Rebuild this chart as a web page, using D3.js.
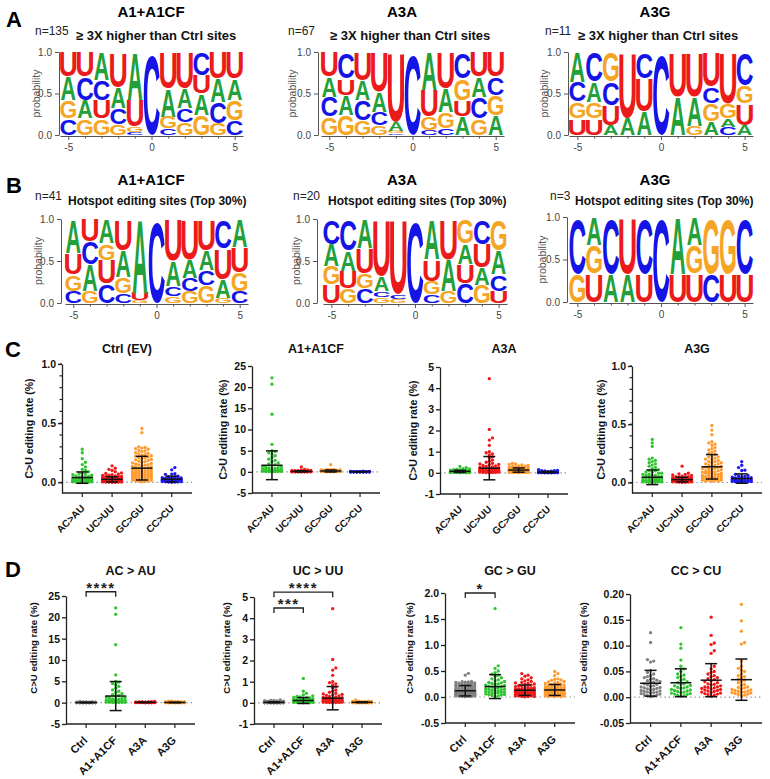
<!DOCTYPE html>
<html><head><meta charset="utf-8">
<script src="https://cdn.jsdelivr.net/npm/d3@7"></script>
<style>
body{margin:0;background:#fff}
svg{display:block}
text{font-family:"Liberation Sans",Arial,Helvetica,sans-serif}
</style></head>
<body><svg id="c" width="770" height="779"></svg>
<script>
// ---------------- DATA ----------------
const positions = [-5,-4,-3,-2,-1,0,1,2,3,4,5];

// Sequence logos: letters listed bottom -> top, with probabilities
const logoA1_letters = ["CGAU","GACU","GUCA","GCAU","CGUA","C","CGAU","GCAU","GAUC","GCAU","CGAU"];
const logoA1_probs = [[.20,.22,.28,.30],[.20,.22,.28,.30],[.20,.22,.24,.34],[.13,.19,.25,.43],[.03,.07,.32,.58],[1],[.08,.14,.34,.44],[.15,.17,.24,.44],[.24,.26,.22,.28],[.14,.26,.28,.32],[.18,.24,.26,.32]];
const logoA3A_letters = ["GCAU","GAUC","GCAU","GCAU","CGAU","C","CGUA","CGAU","AUGC","GCAU","AGCU"];
const logoA3A_probs = [[.22,.24,.24,.30],[.24,.24,.20,.32],[.18,.24,.24,.34],[.12,.16,.24,.48],[.02,.03,.11,.84],[1],[.06,.16,.32,.46],[.08,.20,.28,.44],[.22,.20,.26,.32],[.20,.26,.24,.30],[.24,.24,.22,.30]];
const logoA3G_letters = ["UGCA","UGAC","AUCG","AU","AUC","C","AU","GAU","AGCU","CAGU","AUGC"];
const logoA3G_probs = [[.20,.20,.24,.36],[.20,.20,.24,.36],[.12,.24,.28,.36],[.20,.80],[.28,.40,.32],[1],[.46,.54],[.11,.35,.54],[.16,.22,.20,.42],[.10,.10,.18,.62],[.12,.26,.22,.40]];
const hotA1_letters = ["CGUA","GACU","CUGA","CGAU","GUA","C","GCAU","GCAU","GCAU","GAUC","CGUA"];
const hotA1_probs = [[.14,.20,.26,.40],[.14,.32,.27,.27],[.23,.28,.20,.29],[.11,.20,.32,.37],[.03,.09,.88],[1],[.08,.12,.30,.50],[.14,.16,.22,.48],[.21,.18,.24,.37],[.06,.22,.37,.35],[.14,.23,.30,.33]];
const hotA3A_letters = ["UGAC","GUAC","CGUA","GCAU","GCU","C","CGUA","GAU","CUAG","GAUC","UCAG"];
const hotA3A_probs = [[.22,.22,.26,.30],[.18,.20,.24,.38],[.17,.18,.30,.35],[.07,.07,.18,.68],[.05,.05,.90],[1],[.10,.16,.26,.48],[.14,.38,.48],[.24,.23,.24,.29],[.22,.20,.28,.30],[.14,.20,.28,.38]];
const hotA3G_letters = ["GC","UGA","AC","AU","UC","C","UA","UGA","CG","UG","UC"];
const hotA3G_probs = [[.333,.667],[.333,.333,.334],[.333,.667],[.333,.667],[.333,.667],[1],[.333,.667],[.333,.333,.334],[.333,.667],[.333,.667],[.333,.667]];

const logoTitles = ["A1+A1CF","A3A","A3G"];
const logoN_A = ["n=135","n=67","n=11"];
const logoN_B = ["n=41","n=20","n=3"];
const subA = "\u2265 3X higher than Ctrl sites";
const subB = "Hotspot editing sites (Top 30%)";

// C>U editing rates (%), per enzyme and context
const contexts = ["AC>AU","UC>UU","GC>GU","CC>CU"];
const enzymes = ["Ctrl","A1+A1CF","A3A","A3G"];
const cTitles = ["Ctrl (EV)","A1+A1CF","A3A","A3G"];
const dTitles = ["AC > AU","UC > UU","GC > GU","CC > CU"];

const ctrl_AC = [0.28,0.25,0.2,0.17,0.15,0.13,0.11,0.1,0.09,0.08,0.075,0.07,0.065,0.06,0.055,0.05,0.05,0.045,0.045,0.04,0.04,0.035,0.035,0.03,0.03,0.03,0.028,0.025,0.025,0.022,0.02,0.02,0.02,0.018,0.016,0.015,0.015,0.013,0.012,0.011,0.01,0.01,0.009,0.008,0.008,0.007,0.006,0.005,0.005,0.004,0.003,0.003,0.002,0.001,0];
const ctrl_UC = [0.14,0.12,0.11,0.1,0.09,0.08,0.075,0.07,0.065,0.06,0.058,0.055,0.05,0.05,0.048,0.045,0.043,0.04,0.04,0.038,0.036,0.035,0.033,0.032,0.03,0.03,0.029,0.028,0.027,0.026,0.025,0.024,0.023,0.022,0.021,0.02,0.02,0.019,0.018,0.017,0.016,0.015,0.015,0.014,0.013,0.012,0.012,0.011,0.01,0.01,0.009,0.009,0.008,0.008,0.007,0.007,0.006,0.006,0.005,0.005,0.004,0.004,0.003,0.003,0.002,0.002,0.001,0.001];
const ctrl_GC = [0.455,0.42,0.3,0.295,0.29,0.285,0.28,0.27,0.265,0.26,0.25,0.245,0.24,0.235,0.23,0.225,0.22,0.215,0.21,0.205,0.2,0.195,0.19,0.185,0.18,0.175,0.17,0.165,0.16,0.155,0.15,0.148,0.145,0.14,0.135,0.13,0.128,0.125,0.12,0.118,0.115,0.11,0.108,0.105,0.1,0.098,0.095,0.092,0.09,0.088,0.085,0.082,0.08,0.078,0.075,0.072,0.07,0.068,0.065,0.062,0.06,0.058,0.055,0.052,0.05,0.048,0.045,0.042,0.04,0.038,0.035,0.032,0.03,0.028,0.025,0.022,0.02,0.018,0.015,0.012,0.01,0.008,0.005];
const ctrl_CC = [0.125,0.106,0.073,0.07,0.068,0.052,0.048,0.045,0.042,0.04,0.038,0.036,0.035,0.033,0.032,0.03,0.029,0.028,0.026,0.025,0.024,0.022,0.021,0.02,0.019,0.018,0.017,0.016,0.015,0.014,0.013,0.012,0.011,0.01,0.01,0.009,0.008,0.007,0.006,0.005,0.004,0.003,0.002,0.001];
const a1_AC = [22.2,20.7,13.6,6.5,5.0,4.8,4.5,4.2,3.8,3.4,3.0,2.7,2.4,2.1,1.9,1.7,1.5,1.3,1.2,1.1,1.0,0.9,0.8,0.75,0.7,0.6,0.55,0.5,0.45,0.4,0.35,0.3,0.28,0.25,0.22,0.2,0.18,0.15,0.12,0.1,0.08,0.06,0.05,0.03,0.02];
const a1_UC = [1.15,0.55,0.45,0.38,0.33,0.3,0.28,0.26,0.25,0.23,0.22,0.2,0.19,0.18,0.17,0.16,0.15,0.15,0.14,0.13,0.13,0.12,0.12,0.11,0.11,0.1,0.1,0.09,0.09,0.08,0.08,0.08,0.07,0.07,0.07,0.06,0.06,0.06,0.05,0.05,0.05,0.04,0.04,0.04,0.03,0.03,0.03,0.02,0.02,0.02,0.01,0.01,0.01,0.005,0.005];
const a1_GC = [1.7,0.6,0.55,0.5,0.47,0.44,0.42,0.4,0.37,0.35,0.33,0.31,0.3,0.28,0.27,0.26,0.25,0.24,0.23,0.22,0.21,0.2,0.19,0.18,0.17,0.16,0.15,0.15,0.14,0.13,0.12,0.12,0.11,0.1,0.1,0.09,0.08,0.08,0.07,0.06,0.05,0.05,0.04,0.03,0.02,0.01];
const a1_CC = [0.135,0.103,0.095,0.072,0.06,0.055,0.05,0.045,0.043,0.04,0.038,0.035,0.033,0.03,0.028,0.026,0.025,0.023,0.022,0.02,0.019,0.018,0.017,0.015,0.014,0.013,0.012,0.011,0.01,0.009,0.008,0.007,0.006,0.005,0.004,0.003,0.002];
const a3a_AC = [0.3,0.25,0.2,0.18,0.16,0.15,0.14,0.13,0.12,0.11,0.1,0.1,0.09,0.09,0.08,0.08,0.08,0.07,0.07,0.07,0.06,0.06,0.06,0.05,0.05,0.05,0.05,0.04,0.04,0.04,0.04,0.03,0.03,0.03,0.03,0.02,0.02,0.02,0.02,0.01,0.01,0.01,0.01,0.005,0.005];
const a3a_UC = [4.45,2.05,1.65,1.55,1.3,1.0,0.95,0.9,0.85,0.75,0.7,0.6,0.55,0.5,0.45,0.42,0.4,0.38,0.35,0.33,0.3,0.28,0.26,0.25,0.23,0.22,0.2,0.19,0.18,0.17,0.16,0.15,0.14,0.13,0.12,0.12,0.11,0.1,0.1,0.09,0.09,0.08,0.08,0.07,0.07,0.06,0.06,0.05,0.05,0.04,0.04,0.03,0.03,0.02,0.02,0.01,0.01,0.005];
const a3a_GC = [0.45,0.42,0.4,0.37,0.35,0.33,0.31,0.3,0.28,0.27,0.26,0.25,0.24,0.23,0.22,0.21,0.2,0.19,0.18,0.18,0.17,0.16,0.16,0.15,0.15,0.14,0.14,0.13,0.13,0.12,0.12,0.11,0.11,0.1,0.1,0.1,0.09,0.09,0.09,0.08,0.08,0.08,0.07,0.07,0.07,0.06,0.06,0.06,0.05,0.05,0.05,0.04,0.04,0.04,0.03,0.03,0.03,0.02,0.02,0.02,0.01,0.01,0.01,0.005];
const a3a_CC = [0.155,0.12,0.105,0.102,0.09,0.085,0.06,0.055,0.05,0.048,0.045,0.042,0.04,0.038,0.036,0.034,0.032,0.03,0.028,0.026,0.025,0.024,0.022,0.02,0.02,0.019,0.018,0.017,0.016,0.015,0.014,0.013,0.012,0.011,0.01,0.009,0.008,0.007,0.006,0.005,0.004,0.002];
const a3g_AC = [0.37,0.34,0.31,0.21,0.2,0.19,0.18,0.17,0.16,0.15,0.14,0.13,0.12,0.11,0.1,0.1,0.09,0.09,0.08,0.08,0.07,0.07,0.06,0.06,0.06,0.05,0.05,0.05,0.04,0.04,0.04,0.04,0.03,0.03,0.03,0.03,0.03,0.02,0.02,0.02,0.02,0.02,0.02,0.01,0.01,0.01,0.01,0.01,0.01,0.005,0.005,0.005,0.005,0.002,0.002,0.001];
const a3g_UC = [0.14,0.08,0.075,0.07,0.065,0.06,0.055,0.05,0.05,0.048,0.045,0.042,0.04,0.04,0.038,0.035,0.033,0.032,0.03,0.03,0.028,0.027,0.025,0.025,0.024,0.023,0.022,0.021,0.02,0.02,0.019,0.018,0.017,0.016,0.015,0.015,0.014,0.013,0.012,0.012,0.011,0.01,0.01,0.009,0.008,0.008,0.007,0.006,0.005,0.005,0.004,0.003,0.002,0.001];
const a3g_GC = [0.49,0.45,0.41,0.35,0.34,0.33,0.32,0.3,0.29,0.28,0.27,0.26,0.25,0.24,0.23,0.22,0.22,0.21,0.2,0.2,0.19,0.18,0.18,0.17,0.17,0.16,0.16,0.15,0.15,0.14,0.14,0.13,0.13,0.12,0.12,0.12,0.11,0.11,0.1,0.1,0.1,0.09,0.09,0.09,0.08,0.08,0.08,0.07,0.07,0.07,0.06,0.06,0.06,0.05,0.05,0.05,0.05,0.04,0.04,0.04,0.04,0.03,0.03,0.03,0.03,0.02,0.02,0.02,0.02,0.01,0.01,0.01];
const a3g_CC = [0.18,0.148,0.128,0.106,0.103,0.07,0.06,0.056,0.052,0.05,0.045,0.042,0.04,0.038,0.035,0.033,0.03,0.028,0.025,0.023,0.02,0.019,0.018,0.016,0.015,0.014,0.013,0.012,0.011,0.01,0.01,0.009,0.008,0.007,0.006,0.005,0.004,0.003];

// mean and SD (as shown by the error bars), order: AC, UC, GC, CC
const mean_ctrl = [0.04,0.025,0.12,0.027],  sd_ctrl = [0.048,0.022,0.1,0.025];
const mean_a1   = [1.55,0.11,0.2,0.028],    sd_a1   = [3.4,0.14,0.23,0.027];
const mean_a3a  = [0.07,0.22,0.13,0.033],   sd_a3a  = [0.05,0.55,0.1,0.032];
const mean_a3g  = [0.045,0.025,0.135,0.034],sd_a3g  = [0.063,0.02,0.105,0.04];

const cTicks = [[0,0.5,1],[-5,0,5,10,15,20,25],[-1,0,1,2,3,4,5],[0,0.5,1]];
const cFormats = [".1f","d","d",".1f"];
const cDomains = [[-0.09,1],[-5,25],[-1,5],[-0.09,1]];
const dTicks = [[-5,0,5,10,15,20,25],[-1,0,1,2,3,4,5],[-0.5,0,0.5,1,1.5,2],[-0.05,0,0.05,0.1,0.15,0.2]];
const dFormats = ["d","d",".1f",".2f"];
const dDomains = [[-5,25],[-1,5],[-0.5,2],[-0.05,0.2]];

const sigMarks = [
  {panel:0, a:0, b:1, at:26, label:"****"},
  {panel:1, a:0, b:2, at:5.23, label:"****"},
  {panel:1, a:0, b:1, at:4.48, label:"***"},
  {panel:2, a:0, b:1, at:2.0, label:"*"}
];

// ---------------- DRAW ----------------
const rates = [[ctrl_AC,ctrl_UC,ctrl_GC,ctrl_CC],[a1_AC,a1_UC,a1_GC,a1_CC],[a3a_AC,a3a_UC,a3a_GC,a3a_CC],[a3g_AC,a3g_UC,a3g_GC,a3g_CC]];
const means = [mean_ctrl,mean_a1,mean_a3a,mean_a3g];
const sds = [sd_ctrl,sd_a1,sd_a3a,sd_a3g];

const svg = d3.select("#c");
svg.append("rect").attr("width",770).attr("height",779).attr("fill","#fff");
const fmt = f => { const g = d3.format(f); return v => g(v).replace("\u2212","-"); };

function label(x,y,s,size,weight,anchor,fill){
  return svg.append("text").attr("x",x).attr("y",y).attr("font-size",size)
    .attr("font-weight",weight||"normal").attr("text-anchor",anchor||"start")
    .attr("fill",fill||"#111").text(s);
}

// Panel letters
[["A",6,27],["B",6,193],["C",5,357],["D",5,577]].forEach(([s,x,y])=>label(x,y,s,22,"bold","start","#000"));

const GLYPH = {A:{ink:0.722,yMin:0,yMax:0.716}, C:{ink:0.633,yMin:-0.012,yMax:0.728},
               G:{ink:0.677,yMin:-0.012,yMax:0.728}, U:{ink:0.576,yMin:-0.012,yMax:0.716}};
const LOGO_COLOR = {A:"#23a03a", C:"#1414e6", G:"#f5a524", U:"#ec1b1b"};

function drawLogo(c, letters, probs){
  const g = svg.append("g");
  const x = d3.scaleLinear().domain([-5.5,5.5]).range([c.x0,c.x1]);
  const y = d3.scaleLinear().domain([0,1]).range([c.y0,c.y1]);
  const colW = x(0.5)-x(-0.5);
  positions.forEach((pos,i)=>{
    let cum = 0;
    letters[i].split("").forEach((L,j)=>{
      const p = probs[i][j];
      const bottom = y(cum), top = y(cum+p);
      cum += p;
      const h = bottom-top;
      if (h < 0.4) return;
      const m = GLYPH[L], FS = 100;
      const sx = colW*0.93/(m.ink*FS);
      const sy = h/((m.yMax-m.yMin)*FS);
      const base = bottom + m.yMin*FS*sy;
      g.append("text").attr("transform",`translate(${x(pos)},${base}) scale(${sx},${sy})`)
        .attr("text-anchor","middle").attr("font-size",FS).attr("font-weight","bold")
        .attr("fill",LOGO_COLOR[L]).text(L);
    });
  });
  // y axis
  const ya = svg.append("g").attr("transform",`translate(${c.ax},0)`)
    .call(d3.axisLeft(y).tickValues([0,0.5,1]).tickFormat(fmt(".1f")).tickSize(4).tickSizeOuter(0));
  // x axis
  const xa = svg.append("g").attr("transform",`translate(0,${c.y0+1})`)
    .call(d3.axisBottom(x).tickValues(positions).tickFormat(v => (v%5===0)? fmt("d")(v) : "").tickSize(3).tickSizeOuter(0));
  xa.selectAll(".tick line").attr("y2", d => d%5===0 ? 4 : 2.5);
  [ya,xa].forEach(a=>{
    a.selectAll("path,line").attr("stroke","#555").attr("stroke-width",1);
    a.selectAll("text").attr("font-size",10).attr("fill","#444").attr("font-family",'"Liberation Sans",Arial,sans-serif');
  });
  xa.selectAll("text").attr("dy","0.9em");
  svg.append("text").attr("transform",`translate(${c.lx},${(c.y0+c.y1)/2}) rotate(-90)`)
    .attr("text-anchor","middle").attr("font-size",10.5).attr("fill","#555").text("probability");
}

const logoCfgA = [
  {ax:59,x0:60,x1:243,y0:135,y1:52,lx:40,tx:151,nx:35,sx:76},
  {ax:318,x0:321,x1:504,y0:135,y1:52,lx:296,tx:402,nx:288,sx:330},
  {ax:568,x0:569,x1:753,y0:135,y1:52,lx:548,tx:655,nx:545,sx:578}
];
const logoCfgB = [
  {ax:61,x0:65,x1:248,y0:303,y1:219,lx:42,tx:151,nx:35,sx:68},
  {ax:317,x0:323,x1:507,y0:303,y1:219,lx:300,tx:402,nx:293,sx:328},
  {ax:567,x0:569,x1:753,y0:302,y1:217,lx:546,tx:655,nx:550,sx:575}
];
const logosA = [[logoA1_letters,logoA1_probs],[logoA3A_letters,logoA3A_probs],[logoA3G_letters,logoA3G_probs]];
const logosB = [[hotA1_letters,hotA1_probs],[hotA3A_letters,hotA3A_probs],[hotA3G_letters,hotA3G_probs]];
logoCfgA.forEach((c,i)=>{
  label(c.tx,17,logoTitles[i],15,"bold","middle","#000");
  label(c.nx,35,logoN_A[i],12,"normal","start","#222");
  label(c.sx,40,subA,13,"bold","start","#111");
  drawLogo(c,logosA[i][0],logosA[i][1]);
});
logoCfgB.forEach((c,i)=>{
  label(c.tx,185,logoTitles[i],15,"bold","middle","#000");
  label(c.nx,200,logoN_B[i],12,"normal","start","#222");
  label(c.sx,205,subB,12,"bold","start","#111");
  drawLogo(c,logosB[i][0],logosB[i][1]);
});

// ---------- scatter panels ----------
function swarm(vals, y, cx, r, maxHalf){
  const s = r*1.9;
  const offs = [0];
  for (let k=1; k*s<=maxHalf; k++) offs.push(k*s,-k*s);
  const placed = [];
  vals.slice().sort((a,b)=>a-b).forEach(v=>{
    const py = y(v);
    let best = 0, bestD = -1;
    for (const o of offs){
      let md = Infinity;
      for (const q of placed){
        const dy = q.y-py; if (Math.abs(dy) >= 2*r) continue;
        const d = Math.hypot(q.x-(cx+o), dy); if (d<md) md = d;
      }
      if (md >= 2*r*0.95){ best = o; bestD = md; break; }
      if (md > bestD){ bestD = md; best = o; }
    }
    placed.push({x:cx+best, y:py});
  });
  return placed;
}

function drawScatter(c){
  const y = d3.scaleLinear().domain(c.domain).range([c.yb,c.yt]);
  const x = d3.scalePoint().domain(c.cats).range([c.ax,c.xEnd]).padding(0.68);
  // zero dotted line
  svg.append("line").attr("x1",c.ax).attr("x2",c.xEnd).attr("y1",y(0)).attr("y2",y(0))
    .attr("stroke","#8a8a8a").attr("stroke-width",1.2).attr("stroke-dasharray","1.3,3");
  // points
  c.cats.forEach((cat,k)=>{
    const pts = swarm(c.values[k], y, x(cat), 1.65, 11.5);
    svg.append("g").selectAll("circle").data(pts).join("circle")
      .attr("cx",d=>d.x).attr("cy",d=>d.y).attr("r",1.65).attr("fill",c.colors[k]);
  });
  // error bars
  c.cats.forEach((cat,k)=>{
    const cx = x(cat), m = c.means[k], s = c.sds[k];
    const g = svg.append("g").attr("stroke","#111").attr("stroke-width",1.5);
    g.append("line").attr("x1",cx).attr("x2",cx).attr("y1",y(m-s)).attr("y2",y(m+s));
    g.append("line").attr("x1",cx-10.5).attr("x2",cx+10.5).attr("y1",y(m)).attr("y2",y(m));
    [m-s,m+s].forEach(v=>g.append("line").attr("x1",cx-6).attr("x2",cx+6).attr("y1",y(v)).attr("y2",y(v)));
  });
  // y axis
  const ya = svg.append("g").attr("transform",`translate(${c.ax},0)`)
    .call(d3.axisLeft(y).tickValues(c.ticks).tickFormat(fmt(c.format)).tickSize(4).tickSizeOuter(0));
  if (c.minor){
    svg.append("g").selectAll("line").data(c.minor).join("line")
      .attr("x1",c.ax-2.5).attr("x2",c.ax).attr("y1",d=>y(d)).attr("y2",d=>y(d))
      .attr("stroke","#222").attr("stroke-width",1.2);
  }
  // x axis
  svg.append("line").attr("x1",c.ax).attr("x2",c.xEnd).attr("y1",c.yb).attr("y2",c.yb)
    .attr("stroke","#222").attr("stroke-width",1.3);
  c.cats.forEach(cat=>{
    svg.append("line").attr("x1",x(cat)).attr("x2",x(cat)).attr("y1",c.yb).attr("y2",c.yb+4)
      .attr("stroke","#222").attr("stroke-width",1.2);
    svg.append("text").attr("transform",`translate(${x(cat)+c.lxo},${c.yb+c.lyo}) rotate(-45)`)
      .attr("text-anchor","end").attr("font-size",c.catSize).attr("font-weight","bold").attr("fill","#111").text(cat);
  });
  ya.selectAll("path,line").attr("stroke","#222").attr("stroke-width",1.3);
  ya.selectAll("text").attr("font-size",10.5).attr("font-weight","bold").attr("fill","#111")
    .attr("font-family",'"Liberation Sans",Arial,sans-serif').attr("x",-6);
  // titles
  label((c.ax+c.xEnd)/2, c.titleY, c.title, 12.5, "bold", "middle", "#111");
  svg.append("text").attr("transform",`translate(${c.ylx},${c.yly}) rotate(-90)`)
    .attr("text-anchor","middle").attr("font-size",c.ylSize).attr("font-weight","bold").attr("fill","#111")
    .text("C>U editing rate (%)");
  return {x,y};
}

const cColors = ["#30c530","#f01818","#ff9a2e","#1a1af0"];
const dColors = ["#808080","#30c530","#f01818","#ff9a2e"];
const cLayout = [
  {ax:62,xEnd:192,yb:493,yt:364,ylx:33},
  {ax:252,xEnd:380,yb:493,yt:366,ylx:227},
  {ax:440,xEnd:568,yb:494,yt:367,ylx:417},
  {ax:632,xEnd:762,yb:493,yt:366,ylx:605}
];
const dLayout = [
  {ax:66,xEnd:195,yb:724,yt:596,ylx:37},
  {ax:254,xEnd:382,yb:724,yt:597,ylx:230},
  {ax:445,xEnd:575,yb:723,yt:593,ylx:413},
  {ax:630,xEnd:762,yb:723,yt:594,ylx:587}
];

cLayout.forEach((L,i)=>{
  drawScatter(Object.assign({}, L, {
    domain:cDomains[i], ticks:cTicks[i], format:cFormats[i],
    minor:(i===0||i===3) ? d3.range(0,1.001,0.1) : null,
    cats:contexts, values:rates[i], means:means[i], sds:sds[i], colors:cColors,
    title:cTitles[i], titleY:353, yly:(L.yb+L.yt)/2, ylSize:10.5,
    catSize:10, lxo:3, lyo:16
  }));
});

const dScales = dLayout.map((L,k)=>drawScatter(Object.assign({}, L, {
    domain:dDomains[k], ticks:dTicks[k], format:dFormats[k], minor:null,
    cats:enzymes, values:rates.map(r=>r[k]), means:means.map(m=>m[k]), sds:sds.map(s=>s[k]), colors:dColors,
    title:dTitles[k], titleY:575, yly:648, ylSize:9.6,
    catSize:11, lxo:2, lyo:17
  })));

// significance brackets
sigMarks.forEach(s=>{
  const {x,y} = dScales[s.panel];
  const x1 = x(enzymes[s.a]), x2 = x(enzymes[s.b]), yy = y(s.at);
  svg.append("path").attr("d",`M${x1},${yy+5}V${yy}H${x2}V${yy+5}`)
    .attr("fill","none").attr("stroke","#222").attr("stroke-width",1.3);
  svg.append("text").attr("x",(x1+x2)/2).attr("y",yy+1).attr("text-anchor","middle")
    .attr("font-size",15).attr("font-weight","bold").attr("letter-spacing",1.5).attr("fill","#222").text(s.label);
});
</script>
</body></html>
